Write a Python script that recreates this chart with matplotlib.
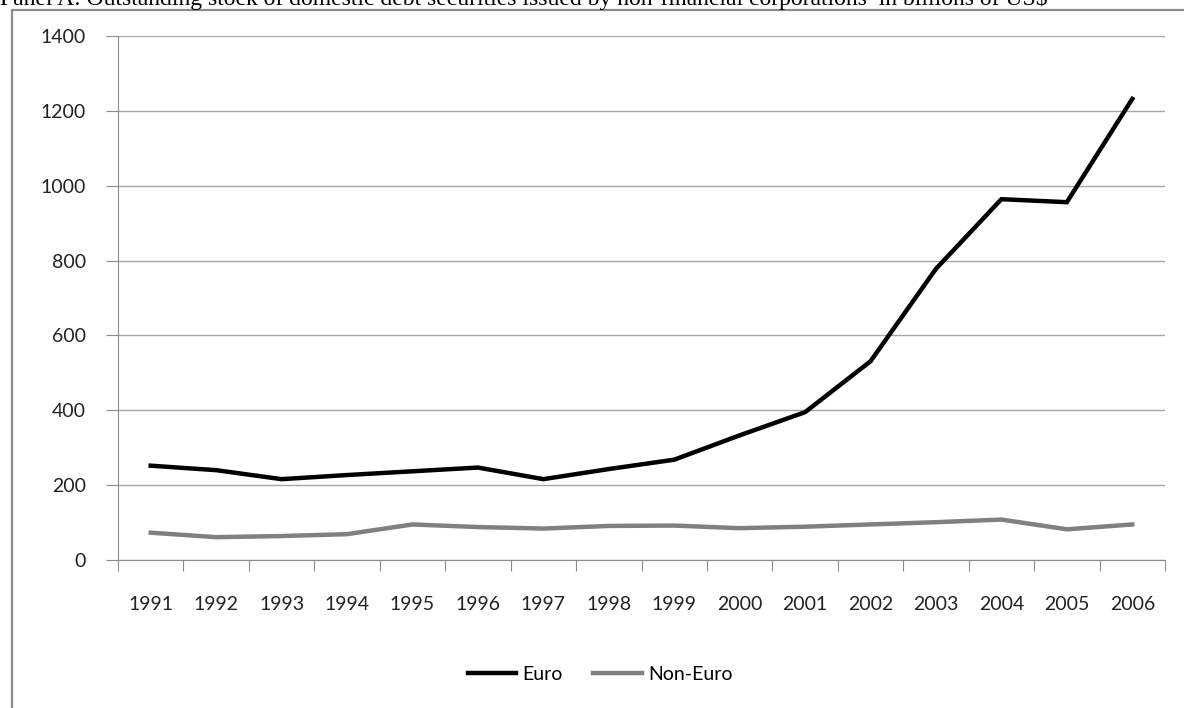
import matplotlib.pyplot as plt
from matplotlib.patches import Rectangle

years = ['1991', '1992', '1993', '1994', '1995', '1996', '1997', '1998',
         '1999', '2000', '2001', '2002', '2003', '2004', '2005', '2006']
euro = [252, 240, 216, 227, 237, 247, 216, 243, 268, 333, 395, 531, 778, 964, 956, 1232]
non_euro = [73, 61, 64, 69, 95, 88, 84, 91, 92, 85, 89, 95, 101, 108, 82, 95]

W, H = 1184, 708
fig = plt.figure(figsize=(W / 100, H / 100), dpi=100)

# outer chart border (runs off the right and bottom of the picture)
fig.patches.append(Rectangle((12 / W, -0.1), 1.2, (H - 10) / H + 0.1, transform=fig.transFigure,
                             fill=False, edgecolor='#8c8c8c', linewidth=1.6))

# title, cut off at the top of the picture as in the source
fig.text(0.0, 1 - 5 / H, 'Panel A: Outstanding stock of domestic debt securities issued by non-financial '
         'corporations  in billions of US$', family='Liberation Serif', fontsize=17,
         va='baseline', ha='left')

ax = fig.add_axes([118 / W, (H - 560) / H, (1165 - 118) / W, (560 - 36) / H])

x = [i + 0.5 for i in range(len(years))]
ax.plot(x, euro, color='black', linewidth=3.2, label='Euro', solid_joinstyle='miter')
ax.plot(x, non_euro, color='#808080', linewidth=3.2, label='Non-Euro')

ax.set_xlim(0, len(years))
ax.set_ylim(0, 1400)
ax.set_yticks(range(0, 1401, 200))
ax.set_xticks(range(0, len(years) + 1))
ax.set_xticklabels([])
ax.set_xticks(x, minor=True)
ax.set_xticklabels(years, minor=True)
ax.tick_params(axis='x', which='minor', length=0, pad=26)
ax.tick_params(axis='x', which='major', length=8, color='#8c8c8c', direction='out')
ax.tick_params(axis='y', length=9, color='#8c8c8c', pad=14)
for lab in ax.get_xticklabels(minor=True) + ax.get_yticklabels():
    lab.set_family('Lato')
    lab.set_fontsize(14)
    lab.set_color('#222222')

ax.grid(axis='y', color='#a6a6a6', linewidth=1)
ax.set_axisbelow(True)
for s in ['top', 'right']:
    ax.spines[s].set_visible(False)
ax.spines['left'].set_color('#8c8c8c')
ax.spines['bottom'].set_color('#8c8c8c')

fig.legend(loc='center', bbox_to_anchor=(600 / W, 1 - 674 / H), ncol=2, frameon=False,
           prop={'family': 'Lato', 'size': 14}, handlelength=2.5, handletextpad=0.3,
           columnspacing=1.6)

fig.savefig('out.png', dpi=100)
